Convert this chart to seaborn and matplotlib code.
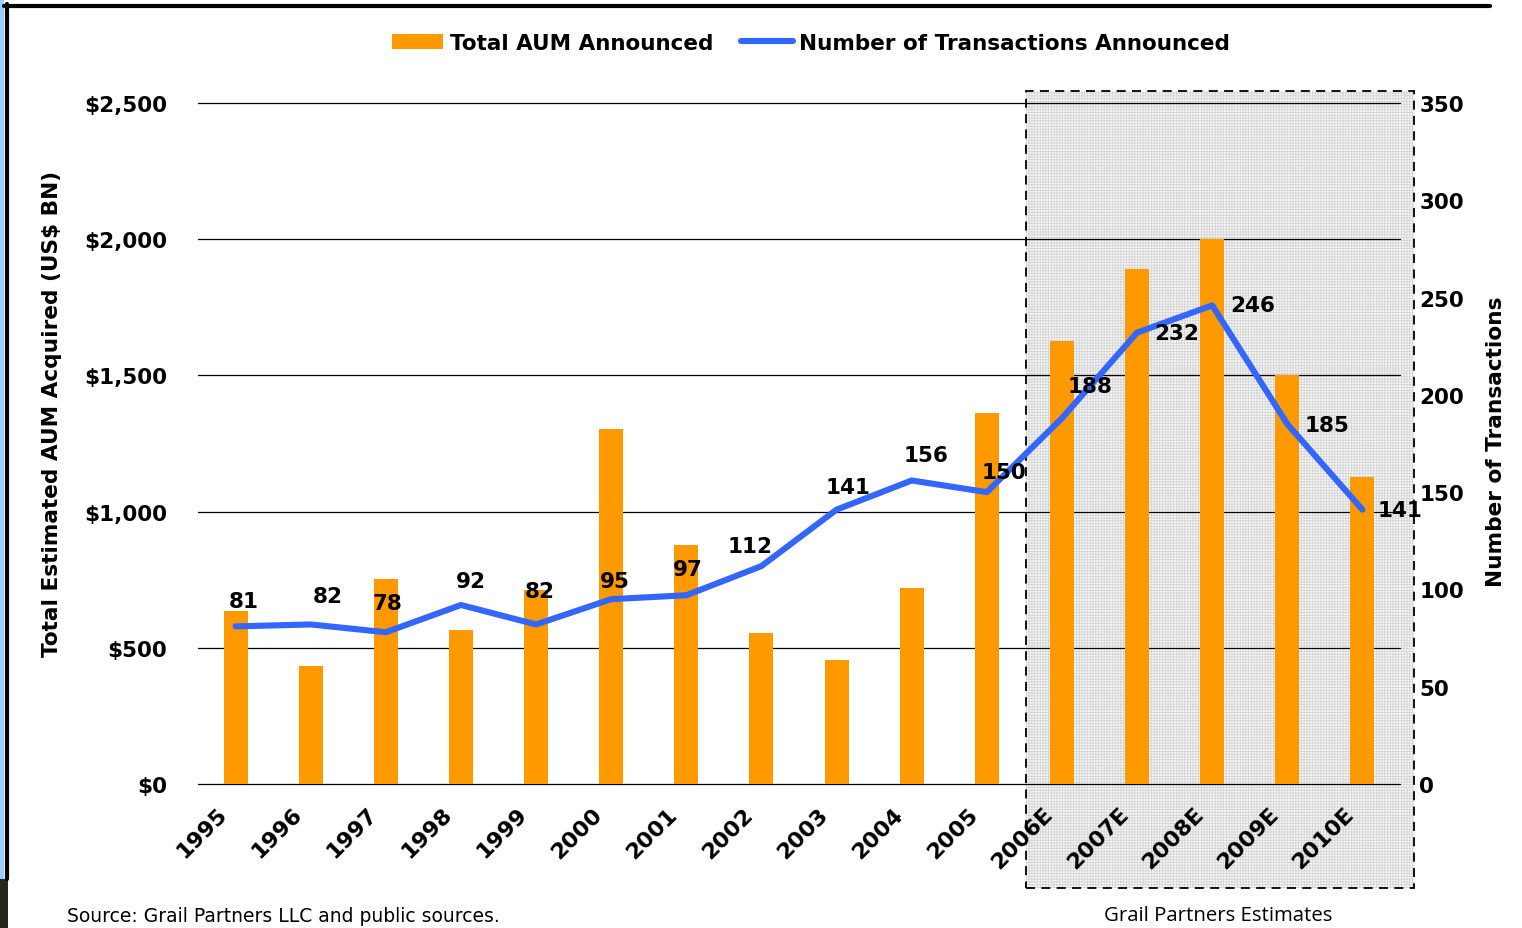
import numpy as np
import pandas as pd
import seaborn as sns
import matplotlib.pyplot as plt
from matplotlib.patches import Rectangle
from matplotlib.lines import Line2D
import matplotlib.transforms as mtransforms


years = ["1995", "1996", "1997", "1998", "1999", "2000", "2001", "2002",
         "2003", "2004", "2005", "2006E", "2007E", "2008E", "2009E", "2010E"]
aum = [635, 433, 753, 565, 712, 1303, 877, 554,
       455, 720, 1362, 1626, 1891, 2000, 1501, 1127]      # US$ BN
deals = [81, 82, 78, 92, 82, 95, 97, 112,
         141, 156, 150, 188, 232, 246, 185, 141]           # number of transactions
first_estimate = "2006E"

# where each count label sits relative to its point (pixels right, pixels up)
label_dx = [8, 17, 2, 10, 4, 4, 2, -11, 11, 14, 17, 28, 40, 40, 40, 38]
label_dy = [25, 28, 29, 24, 33, 18, 26, 20, 23, 25, 20, 32, 0, 0, -1, 0]

orange = "#FF9900"
blue = "#3366FF"

sns.set_style("white")
plt.rcParams["font.family"] = ["DejaVu Sans"]
plt.rcParams["text.color"] = "black"
plt.rcParams["xtick.color"] = "black"
plt.rcParams["ytick.color"] = "black"
plt.rcParams["hatch.linewidth"] = 0.6

W, H = 1522, 929
fig = plt.figure(figsize=(W / 100, H / 100), dpi=100)
ax = fig.add_axes([198 / W, 1 - 785 / H, 1202 / W, 681 / H])

df = pd.DataFrame({"year": years, "aum": aum, "deals": deals})
sns.barplot(data=df, x="year", y="aum", color=orange, saturation=1,
            width=0.32, edgecolor="none", linewidth=0, ax=ax, zorder=3)

ax.set_xlim(-0.5, len(years) - 0.5)
ax.set_ylim(0, 2500)
ax.set_yticks(np.arange(0, 2501, 500))
ax.set_yticklabels(["${:,}".format(v) for v in range(0, 2501, 500)])
ax.yaxis.grid(True, color="black", lw=0.9)
ax.set_axisbelow(False)
for gl in ax.yaxis.get_gridlines():
    gl.set_zorder(2)
    gl.set_clip_on(False)
for s in ax.spines.values():
    s.set_visible(False)
ax.set_xlabel("")
ax.set_ylabel("")
ax.tick_params(axis="y", length=0, pad=22, labelsize=15.5)
ax.tick_params(axis="x", length=0, pad=14, labelsize=16)
shift = mtransforms.ScaledTranslation(-0.19, 0, fig.dpi_scale_trans)
for lab in ax.get_yticklabels():
    lab.set_fontweight("bold")
for lab in ax.get_xticklabels():
    lab.set_fontweight("bold")
    lab.set_rotation(45)
    lab.set_ha("right")
    lab.set_va("top")
    lab.set_rotation_mode("anchor")
    lab.set_transform(lab.get_transform() + shift)

# shaded box for estimate years
x0 = years.index(first_estimate) - 0.48
trans = mtransforms.blended_transform_factory(ax.transData, ax.transAxes)
box_w = 5.166
box_y0, box_y1 = -0.153, 1.0176
ax.add_patch(Rectangle((x0, box_y0), box_w, box_y1 - box_y0, transform=trans,
                       facecolor="#f7f7f7", edgecolor="#d4d4d4", hatch="++++++",
                       lw=0, clip_on=False, zorder=0.5))
ax.add_patch(Rectangle((x0, box_y0), box_w, box_y1 - box_y0, transform=trans,
                       facecolor="none", edgecolor="black", lw=1.3,
                       linestyle=(0, (5, 3.5)), clip_on=False, zorder=4))

# transactions on the right axis
ax2 = ax.twinx()
xpos = np.arange(len(years))
sns.lineplot(x=xpos, y=deals, color=blue, lw=4.4, ax=ax2, zorder=5)
ax2.set_ylim(0, 350)
ax2.set_yticks(np.arange(0, 351, 50))
ax2.tick_params(axis="y", length=0, pad=14, labelsize=15.5)
for lab in ax2.get_yticklabels():
    lab.set_fontweight("bold")
for s in ax2.spines.values():
    s.set_visible(False)
ax2.set_ylabel("")

for x, v, dx, dy in zip(xpos, deals, label_dx, label_dy):
    ax2.annotate(str(v), (x, v), xytext=(dx * 0.72, dy * 0.72),
                 textcoords="offset points", ha="center", va="center",
                 fontsize=15.5, fontweight="bold", zorder=6)

# axis titles
fig.text(52 / W, 1 - 414 / H, "Total Estimated AUM Acquired (US$ BN)",
         rotation=90, ha="center", va="center", fontsize=15.6, fontweight="bold")
fig.text(1496 / W, 1 - 442 / H, "Number of Transactions",
         rotation=90, ha="center", va="center", fontsize=15.6, fontweight="bold")

# legend
handles = [Rectangle((0, 0), 1, 1, facecolor=orange, edgecolor="none"),
           Line2D([0], [0], color=blue, lw=4.4, solid_capstyle="round")]
fig.legend(handles, ["Total AUM Announced", "Number of Transactions Announced"],
           loc="center", bbox_to_anchor=(811 / W, 1 - 44 / H), ncol=2,
           frameon=False, handlelength=2.4, handleheight=0.75,
           handletextpad=0.3, columnspacing=1.3,
           prop={"weight": "bold", "size": 15.5})

# footers
fig.text(67 / W, 1 - 917 / H, "Source: Grail Partners LLC and public sources.",
         ha="left", va="center", fontsize=13.5)
fig.text(1218 / W, 1 - 916 / H, "Grail Partners Estimates", ha="center",
         va="center", fontsize=14.7, family=["Open Sans", "DejaVu Sans"])

# page frame pieces
fig.add_artist(Rectangle((0, 1 - 880 / H), 4 / W, 880 / H, transform=fig.transFigure,
                         facecolor="#99CCFF", edgecolor="none"))
fig.add_artist(Rectangle((0, 0), 8 / W, 49 / H, transform=fig.transFigure,
                         facecolor="#262621", edgecolor="none"))
fig.add_artist(Line2D([6.5 / W, 6.5 / W], [1 - 5 / H, 1 - 880 / H],
                      transform=fig.transFigure, color="black", lw=3))
fig.add_artist(Line2D([4 / W, 1490 / W], [1 - 7 / H, 1 - 7 / H],
                      transform=fig.transFigure, color="black", lw=3))

fig.savefig("out.png", dpi=100)
